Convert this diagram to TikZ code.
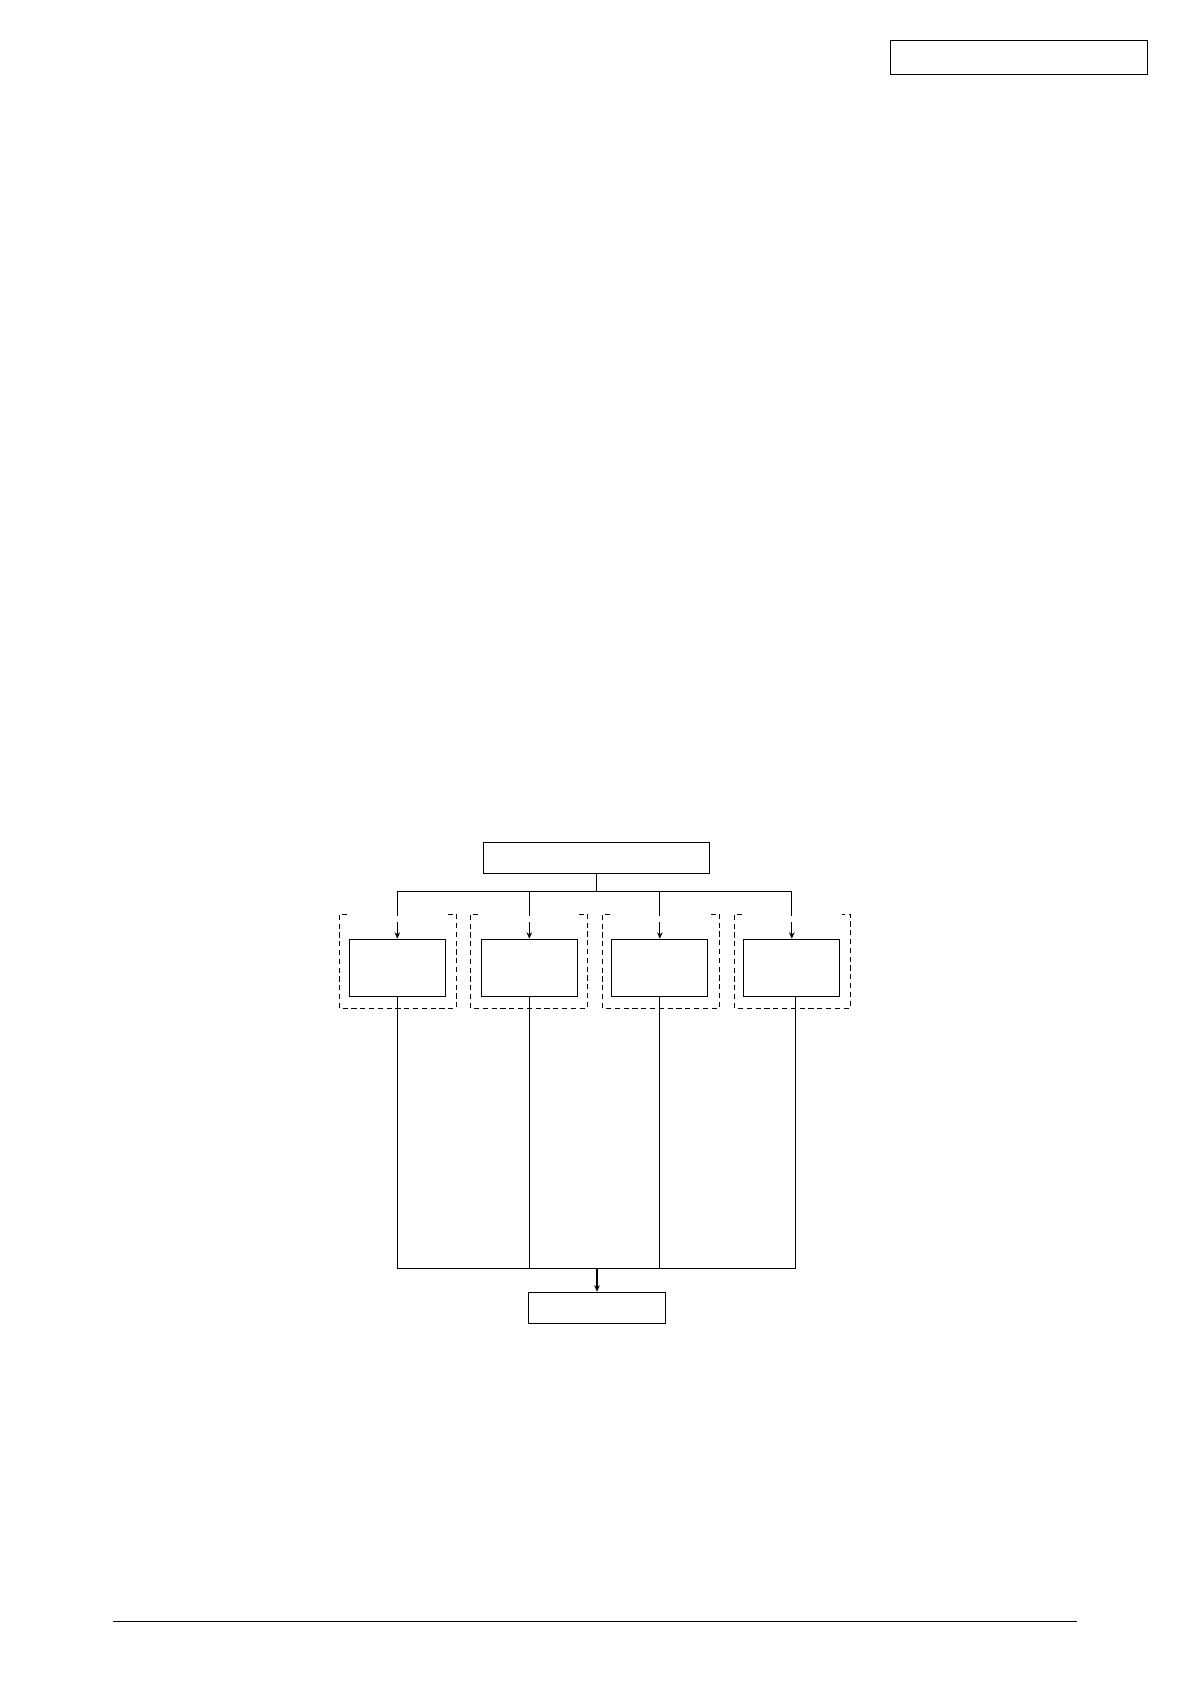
\documentclass[tikz,border=0pt]{standalone}
\usepackage{amssymb,amsmath}
\usetikzlibrary{arrows.meta}

\tikzset{
  blockbox/.style={draw, line width=0.6pt, inner sep=0pt, minimum width=48pt, minimum height=28.5pt},
  groupline/.style={line width=0.5pt, dash pattern=on 2.6pt off 1.8pt},
  wire/.style={line width=0.6pt},
  arr/.style={wire, -{Stealth[length=3.2pt,width=2.8pt]}}
}

\begin{document}
\begin{tikzpicture}[x=0.5pt,y=0.5pt,yscale=-1,xscale=1]
\useasboundingbox (0,0) rectangle (1191,1684);

%Shape: Rectangle header
\node [draw, line width=0.6pt, inner sep=0pt, minimum width=128.6pt, minimum height=17pt] (header) at (1019.2,57.3) {};
%Shape: Rectangle top
\node [draw, line width=0.6pt, inner sep=0pt, minimum width=113pt, minimum height=15.5pt] (top) at (596.3,857.8) {};
%Shape: Rectangle blocks
\node [blockbox] (d1) at (397.3,967.8) {};
\node [blockbox] (d2) at (529.3,967.8) {};
\node [blockbox] (d3) at (659.8,967.8) {};
\node [blockbox] (d4) at (791.8,967.8) {};
%Shape: Rectangle bottom
\node [draw, line width=0.6pt, inner sep=0pt, minimum width=68.7pt, minimum height=15.5pt] (bottom) at (597,1307.8) {};

%Dashed groups
\draw [groupline] (347,914) -- (339,914) -- (339,1008) -- (456.3,1008) -- (456.3,914) -- (448.3,914);
\draw [groupline] (478.3,914) -- (470.3,914) -- (470.3,1008) -- (587.3,1008) -- (587.3,914) -- (579.3,914);
\draw [groupline] (610.3,914) -- (602.3,914) -- (602.3,1008) -- (719.3,1008) -- (719.3,914) -- (711.3,914);
\draw [groupline] (742.3,914) -- (734.3,914) -- (734.3,1008) -- (850,1008) -- (850,914) -- (842,914);

%Straight Lines
\coordinate (topbus) at (0,891.3);
\coordinate (gapa) at (0,916);
\coordinate (gapb) at (0,922);
\coordinate (botbus) at (0,1268.3);
\coordinate (d4out) at (795.5,0);

\draw [wire] (top) -- (top.south |- topbus);
\draw [wire] (d1.north |- topbus) -- (d4.north |- topbus);
\draw [wire] (d1.north |- topbus) -- (d1.north |- gapa);
\draw [arr] (d1.north |- gapb) -- (d1.north);
\draw [wire] (d2.north |- topbus) -- (d2.north |- gapa);
\draw [arr] (d2.north |- gapb) -- (d2.north);
\draw [wire] (d3.north |- topbus) -- (d3.north |- gapa);
\draw [arr] (d3.north |- gapb) -- (d3.north);
\draw [wire] (d4.north |- topbus) -- (d4.north |- gapa);
\draw [arr] (d4.north |- gapb) -- (d4.north);

\draw [wire] (d1.south) -- (d1.south |- botbus);
\draw [wire] (d2.south) -- (d2.south |- botbus);
\draw [wire] (d3.south) -- (d3.south |- botbus);
\draw [wire] (d4.south -| d4out) -- (d4out |- botbus);
\draw [wire] (d1.south |- botbus) -- (d4out |- botbus);
\draw [arr] (bottom.north |- botbus) -- (bottom);

%Footer line
\draw [line width=0.8pt] (113,1621.5) -- (1076.7,1621.5);

\end{tikzpicture}
\end{document}
